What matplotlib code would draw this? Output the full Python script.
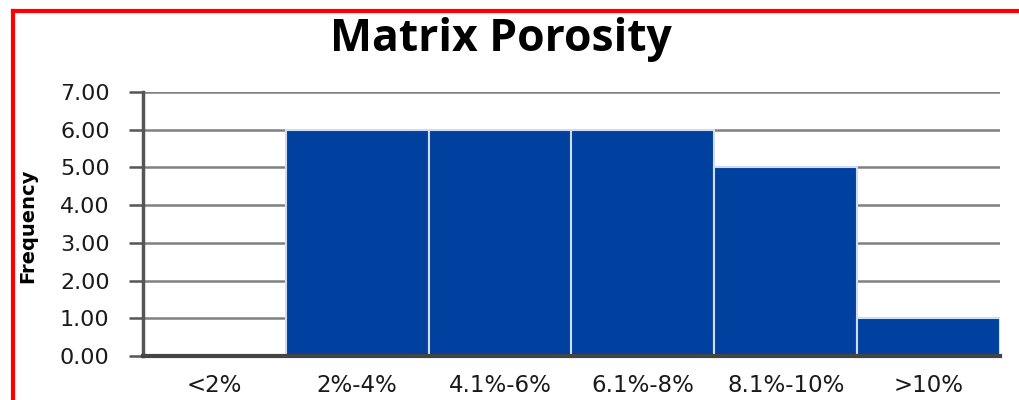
import matplotlib
matplotlib.use("Agg")
import matplotlib.pyplot as plt
from matplotlib.lines import Line2D

# data
categories = ["<2%", "2%-4%", "4.1%-6%", "6.1%-8%", "8.1%-10%", ">10%"]
frequency = [0, 6, 6, 6, 5, 1]
y_ticks = [0, 1, 2, 3, 4, 5, 6, 7]

W, H = 1019, 400
fig = plt.figure(figsize=(W / 100, H / 100), dpi=100)
ax = fig.add_axes([143 / W, 44 / H, 857 / W, 264 / H])

x = range(len(categories))
ax.bar(x, frequency, width=1.0, color="#0041a0", edgecolor="#cfdcf2",
       linewidth=1.5, zorder=3)

ax.set_xlim(-0.5, len(categories) - 0.5)
ax.set_ylim(0, 7)
ax.set_yticks(y_ticks)
ax.set_yticklabels([f"{v:.2f}" for v in y_ticks], fontsize=16,
                   fontfamily="DejaVu Sans", color="#1a1a1a")
ax.set_xticks(list(x))
ax.set_xticklabels(categories, fontsize=16.5, fontfamily="DejaVu Sans",
                   color="#1a1a1a")
ax.tick_params(axis="x", length=0, pad=13)
ax.tick_params(axis="y", length=10, width=1.8, color="#555555",
               direction="out", pad=14)

ax.yaxis.grid(True, color="#808080", linewidth=1.8, zorder=0)
ax.set_axisbelow(True)
for side in ["top", "right"]:
    ax.spines[side].set_visible(False)
ax.spines["left"].set_color("#555555")
ax.spines["left"].set_linewidth(2.5)
ax.spines["bottom"].set_color("#444444")
ax.spines["bottom"].set_linewidth(3)
ax.spines["left"].set_zorder(4)
ax.spines["bottom"].set_zorder(4)

fig.text(28 / W, 1 - 226 / H, "Frequency", rotation=90, ha="center",
         va="center", fontsize=14, fontweight="bold",
         fontfamily="Liberation Sans Narrow")

fig.text(501 / W, 1 - 40 / H, "Matrix Porosity", ha="center", va="center",
         fontsize=32, fontweight="bold", fontfamily="Open Sans")

# red frame on left and top
fig.add_artist(Line2D([13 / W, 13 / W], [0, 1 - 11 / H], color="red",
                      linewidth=3, transform=fig.transFigure))
fig.add_artist(Line2D([13 / W, 1], [1 - 11 / H, 1 - 11 / H], color="red",
                      linewidth=3, transform=fig.transFigure))

fig.savefig("out.png", dpi=100)
